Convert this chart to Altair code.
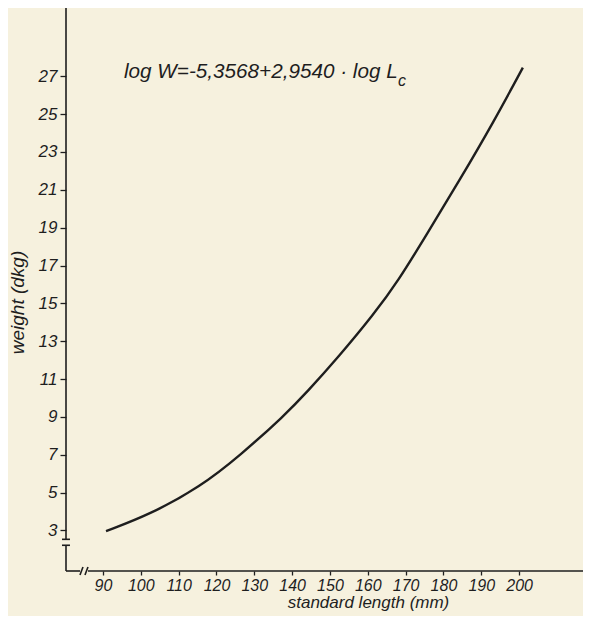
import altair as alt
import pandas as pd

# curve
length_mm = [90.8, 102.4, 115.7, 126.2, 138.1, 143.9, 152.6, 161.5, 168.1, 175.6, 184.4, 193.3, 201.0]
weight_dkg = [2.96, 3.84, 5.30, 6.95, 9.10, 10.30, 12.25, 14.40, 16.20, 18.65, 21.55, 24.60, 27.46]

x_ticks = [90, 100, 110, 120, 130, 140, 150, 160, 170, 180, 190, 200]
y_ticks = [3, 5, 7, 9, 11, 13, 15, 17, 19, 21, 23, 25, 27]

x_domain = [80.22, 216.9]
y_domain = [0.856, 30.61]

# axis frame with breaks (data coordinates)
frame_x = [80.22, 80.22, 80.22, 86.03, 79.16, 79.16, 83.92, 85.24]
frame_x2 = [80.22, 80.22, 83.92, 216.9, 81.27, 81.27, 84.71, 86.03]
frame_y = [2.53, 0.856, 0.856, 0.856, 2.53, 2.216, 0.647, 0.647]
frame_y2 = [30.61, 2.216, 0.856, 0.856, 2.53, 2.216, 1.065, 1.065]

eq_text = ["log W=-5,3568+2,9540 · log L", "c"]
eq_x = [95.55, 168.0]
eq_y = [26.9, 26.48]
eq_size = [20.7, 16]

FONT = "Liberation Sans"
INK = "#1e1e1e"

curve = pd.DataFrame({"L": length_mm, "W": weight_dkg})
frame = pd.DataFrame({"x": frame_x, "x2": frame_x2, "y": frame_y, "y2": frame_y2})
eq = pd.DataFrame({"t": eq_text, "x": eq_x, "y": eq_y, "s": eq_size})

xs = alt.Scale(domain=x_domain, nice=False, zero=False)
ys = alt.Scale(domain=y_domain, nice=False, zero=False)

x_axis = alt.Axis(values=x_ticks, domain=False, grid=False, tickSize=4, tickColor=INK,
                  tickWidth=1.3, labelFont=FONT, labelFontStyle="italic", labelFontSize=16,
                  labelColor=INK, labelPadding=2, labelFlush=False, labelOverlap=False,
                  title="standard length (mm)", titleFont=FONT, titleFontStyle="italic",
                  titleFontWeight="normal", titleFontSize=17, titleColor=INK,
                  titleX=302, titleY=31, titleBaseline="middle", titleAlign="center")
y_axis = alt.Axis(values=y_ticks, domain=False, grid=False, tickSize=6, tickColor=INK,
                  tickWidth=1.3, labelFont=FONT, labelFontStyle="italic", labelFontSize=17,
                  labelColor=INK, labelPadding=3, labelFlush=False, labelOverlap=False,
                  title="weight (dkg)", titleFont=FONT, titleFontStyle="italic",
                  titleFontWeight="normal", titleFontSize=19, titleColor=INK,
                  titleX=-49, titleY=294, titleBaseline="middle", titleAlign="center",
                  titleAngle=270)

line = alt.Chart(curve).mark_line(color=INK, strokeWidth=2.4, interpolate="basis").encode(
    x=alt.X("L:Q", scale=xs, axis=x_axis),
    y=alt.Y("W:Q", scale=ys, axis=y_axis),
)

rules = alt.Chart(frame).mark_rule(color=INK, strokeWidth=1.6).encode(
    x=alt.X("x:Q", scale=xs), x2="x2:Q",
    y=alt.Y("y:Q", scale=ys), y2="y2:Q",
)

text = alt.Chart(eq).mark_text(font=FONT, fontStyle="italic", color=INK, align="left",
                               baseline="alphabetic").encode(
    x=alt.X("x:Q", scale=xs), y=alt.Y("y:Q", scale=ys), text="t:N",
    size=alt.Size("s:Q", scale=None, legend=None),
)

chart = alt.layer(line, rules, text).properties(
    width=517, height=563,
    autosize=alt.AutoSizeParams(type="none"),
    padding={"left": 58, "top": 0, "right": 0, "bottom": 45},
    background="#f6f1de",
).configure_view(stroke=None)

chart.save("out.html", embed_options={"renderer": "svg", "actions": False})
